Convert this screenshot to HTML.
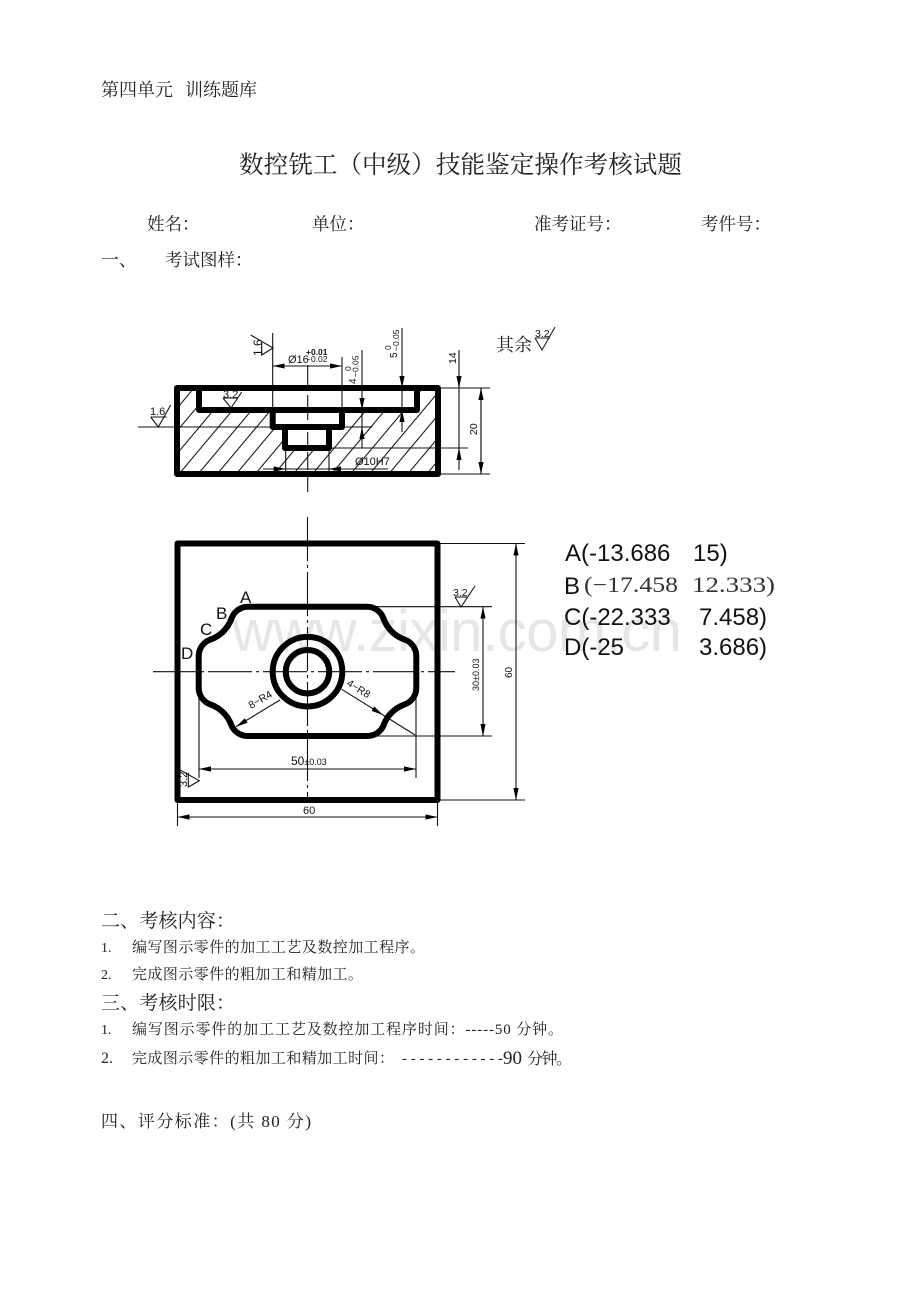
<!DOCTYPE html>
<html><head><meta charset="utf-8"><style>
html,body{margin:0;padding:0;background:#fff}
svg{display:block}
.s{font-family:"Liberation Serif","Noto Serif CJK SC",serif;fill:#222}
.a{font-family:"Liberation Sans",sans-serif;fill:#111}
.d{font-family:"Liberation Sans",sans-serif;fill:#111}
</style></head><body>
<svg width="920" height="1300" viewBox="0 0 920 1300" xmlns="http://www.w3.org/2000/svg">
<defs>
<pattern id="h" patternUnits="userSpaceOnUse" width="14.6" height="14.6" patternTransform="translate(181.7 470) rotate(40)"><line x1="0.5" y1="0" x2="0.5" y2="14.6" stroke="#111" stroke-width="1.1"/></pattern>
<marker id="ar" viewBox="0 0 12 6" refX="12" refY="3" markerWidth="12" markerHeight="6" markerUnits="userSpaceOnUse" orient="auto-start-reverse"><path d="M0 0.4 L12 3 L0 5.6 Z" fill="#000"/></marker>
</defs>
<rect width="920" height="1300" fill="#fff"/>

<text class="s" x="101" y="96" font-size="18" textLength="72">第四单元</text>
<text class="s" x="185" y="96" font-size="18" textLength="72">训练题库</text>
<text class="s" x="239" y="173" font-size="24.6" textLength="443">数控铣工（中级）技能鉴定操作考核试题</text>
<text class="s" x="147" y="230" font-size="17.5">姓名：</text>
<text class="s" x="312" y="230" font-size="17.5">单位：</text>
<text class="s" x="534" y="230" font-size="17.5">准考证号：</text>
<text class="s" x="701" y="230" font-size="17.5">考件号：</text>
<text class="s" x="101" y="266" font-size="18">一、</text>
<text class="s" x="165" y="266" font-size="17.5">考试图样：</text>

<text x="232" y="651" font-family="Liberation Sans, sans-serif" font-size="58" fill="#e6e6e6" textLength="450">www.zixin.com.cn</text>

<!-- top view -->
<path fill-rule="evenodd" fill="url(#h)" d="M177 388H438V474H177Z M199 388V410H272.7V427H285V448H329V427H342V410H417V388Z"/>
<g fill="none" stroke="#111" stroke-width="1.1">
<path d="M307.7 365V388M307.7 395V420M307.7 432V445M307.7 452V470M307.7 477V492"/>
<path d="M272.7 333V408M342 357V408M138 427H372M285.7 450V474M329 450V474"/>
<path d="M362 350V448M402 328V432M459 350V470M481 388V474"/>
<path d="M438 388H490M438 474H490M332 448H468"/>
<path d="M263 469H388"/>
<path d="M272.7 366H342" marker-start="url(#ar)" marker-end="url(#ar)"/>
<path d="M362 398V410" marker-end="url(#ar)"/><path d="M362 439V427" marker-end="url(#ar)"/>
<path d="M402 376V388" marker-end="url(#ar)"/><path d="M402 422V410" marker-end="url(#ar)"/>
<path d="M459 376V388" marker-end="url(#ar)"/><path d="M459 460V448" marker-end="url(#ar)"/>
<path d="M481 388V474" marker-start="url(#ar)" marker-end="url(#ar)"/>
<path d="M273.7 469H285.7" marker-end="url(#ar)"/><path d="M341 469H329" marker-end="url(#ar)"/>
<path d="M250.7 335L273 348L261.7 355V343"/>
<path d="M150.7 417H166.7M170.7 405L158.3 427L150.7 417"/>
<path d="M223 398H238M241.7 392L231 408L223 398"/>
</g>
<g fill="none" stroke="#000" stroke-width="6" stroke-linejoin="round">
<rect x="177" y="388" width="261" height="86"/>
<path d="M199 388V410H417V388"/>
<path d="M272.7 410V427H342V410"/>
<path d="M285 427V448H329V427"/>
</g>
<g class="d">
<text transform="translate(262 356) rotate(-90)" font-size="12">1.6</text>
<text x="150" y="415" font-size="11">1.6</text>
<text x="223" y="398" font-size="11">3.2</text>
<text x="288" y="363" font-size="11">Ø16</text>
<text x="306" y="355" font-size="8.5" font-weight="bold">+0.01</text>
<text x="306" y="362" font-size="8.5">−0.02</text>
<text transform="translate(356 384) rotate(-90)" font-size="10">4</text>
<text transform="translate(351 371) rotate(-90)" font-size="8.5">0</text>
<text transform="translate(358.5 377) rotate(-90)" font-size="8.5">−0.05</text>
<text transform="translate(397 358) rotate(-90)" font-size="10">5</text>
<text transform="translate(391 350) rotate(-90)" font-size="8.5">0</text>
<text transform="translate(399 351) rotate(-90)" font-size="8.5">−0.05</text>
<text transform="translate(456 364) rotate(-90)" font-size="10.5">14</text>
<text transform="translate(477 435) rotate(-90)" font-size="10.5">20</text>
<text x="355" y="465" font-size="11">Ø10H7</text>
</g>

<text class="s" x="496" y="351" font-size="18">其余</text>
<path d="M535 338H550M555 327L542 350L535 338" fill="none" stroke="#222" stroke-width="1.1"/>
<text class="d" x="535" y="337" font-size="10.5">3.2</text>

<!-- bottom view -->
<g fill="none" stroke="#111" stroke-width="1.1">
<path d="M307.5 517V800" stroke-dasharray="44 4 3 4"/>
<path d="M153 671.7H455" stroke-dasharray="44 4 3 4"/>
<path d="M438 543.5H525M438 800H525M368 606.7H492M370 736H492M199 690V778M416 690V778M177.5 802V826M437.5 802V826"/>
<path d="M516 543.5V800" marker-start="url(#ar)" marker-end="url(#ar)"/>
<path d="M483 606.7V736" marker-start="url(#ar)" marker-end="url(#ar)"/>
<path d="M199 769H416" marker-start="url(#ar)" marker-end="url(#ar)"/>
<path d="M177.5 817H437.5" marker-start="url(#ar)" marker-end="url(#ar)"/>
<path d="M455 597H467M475 586L461 607L455 597"/>
<path d="M180 770L199.3 780.7L188.3 787V772.7"/>
<path d="M280 700L236 726.7" marker-end="url(#ar)"/>
<path d="M341.7 689.3L383 715" marker-end="url(#ar)"/>
<path d="M383 715L415 735"/>
</g>
<g fill="none" stroke="#000" stroke-width="6" stroke-linejoin="round">
<rect x="177.5" y="543.5" width="260" height="256.5"/>
<path d="M248 606.7H367 A17.4 17.4 0 0 1 383.4 618.3 A34.8 34.8 0 0 0 404.6 639.6 A17.4 17.4 0 0 1 416.3 656 V688 A17.4 17.4 0 0 1 404.6 704.4 A34.8 34.8 0 0 0 383.4 725.7 A17.4 17.4 0 0 1 367 736 H248 A17.4 17.4 0 0 1 231.6 725.7 A34.8 34.8 0 0 0 210.4 704.4 A17.4 17.4 0 0 1 198.7 688 V656 A17.4 17.4 0 0 1 210.4 639.6 A34.8 34.8 0 0 0 231.6 618.3 A17.4 17.4 0 0 1 248 606.7Z"/>
<circle cx="307.5" cy="671.7" r="34.8"/>
<circle cx="307.5" cy="671.7" r="21.7"/>
</g>
<g class="a" font-size="17">
<text x="240" y="603">A</text>
<text x="216" y="619">B</text>
<text x="200" y="635">C</text>
<text x="181" y="659">D</text>
</g>
<g class="d">
<text x="453" y="596" font-size="10.5">3.2</text>
<text transform="translate(512 678) rotate(-90)" font-size="10">60</text>
<text transform="translate(479 691) rotate(-90)" font-size="9">30±0.03</text>
<text x="291" y="765" font-size="12">50<tspan font-size="9">±0.03</tspan></text>
<text x="303" y="814" font-size="11">60</text>
<text transform="translate(187 787) rotate(-90)" font-size="11">3.2</text>
<text transform="translate(251 709) rotate(-30)" font-size="10.5">8−R4</text>
<text transform="translate(346 685) rotate(32)" font-size="10.5">4−R8</text>
</g>

<g class="a" font-size="24">
<text x="565" y="561">A(-13.686</text>
<text x="693" y="561">15)</text>
<text x="564" y="594">B</text>
<text x="564" y="625">C(-22.333</text>
<text x="699" y="625">7.458)</text>
<text x="564" y="655">D(-25</text>
<text x="699" y="655">3.686)</text>
</g>
<text x="584" y="592" font-family="Liberation Serif, serif" font-size="22" fill="#333" textLength="94" lengthAdjust="spacingAndGlyphs">(−17.458</text>
<text x="692" y="592" font-family="Liberation Serif, serif" font-size="22" fill="#333" textLength="83" lengthAdjust="spacingAndGlyphs">12.333)</text>

<text class="s" x="101" y="927" font-size="19" textLength="134">二、考核内容：</text>
<text class="s" x="101" y="952" font-size="14">1.</text>
<text class="s" x="132" y="952" font-size="15" textLength="293">编写图示零件的加工工艺及数控加工程序。</text>
<text class="s" x="101" y="979" font-size="14">2.</text>
<text class="s" x="132" y="979" font-size="15" textLength="231">完成图示零件的粗加工和精加工。</text>
<text class="s" x="101" y="1009" font-size="19" textLength="134">三、考核时限：</text>
<text class="s" x="101" y="1034" font-size="14">1.</text>
<text class="s" x="132" y="1034" font-size="15" textLength="431">编写图示零件的加工工艺及数控加工程序时间：-----50 分钟。</text>
<text class="s" x="101" y="1063" font-size="16">2.</text>
<text class="s" x="132" y="1063" font-size="15" textLength="262">完成图示零件的粗加工和精加工时间：</text>
<text class="s" x="402" y="1063" font-size="15" textLength="101">------------</text>
<text class="s" x="503" y="1064" font-size="19" textLength="19">90</text>
<text class="s" x="527" y="1064" font-size="16" textLength="45">分钟。</text>
<text class="s" x="101" y="1127" font-size="17" textLength="210">四、评分标准：(共 80 分)</text>
</svg>
</body></html>
